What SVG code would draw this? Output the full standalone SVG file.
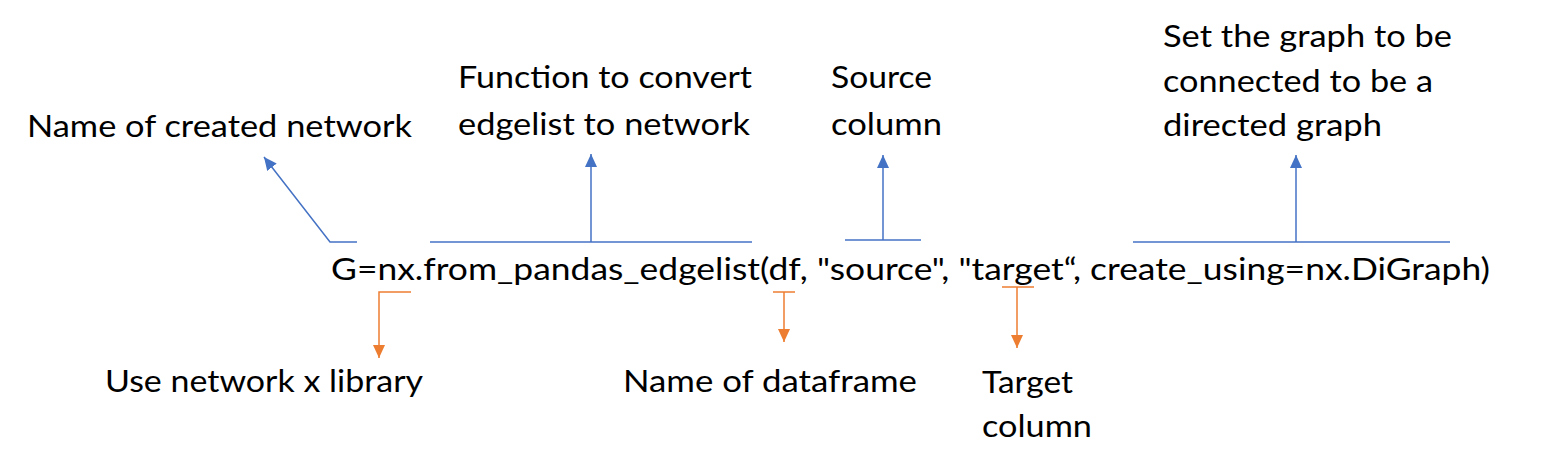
<svg xmlns="http://www.w3.org/2000/svg" width="1556" height="471" viewBox="0 0 1556 471">
<defs>
<style>
text{font-family:Lato,"Open Sans","Liberation Sans",sans-serif;font-size:31px;fill:#000}
.b{stroke:#4472C4;stroke-width:1.5;fill:none}
.o{stroke:#ED7D31;stroke-width:1.5;fill:none}
</style>
<marker id="ab" markerUnits="userSpaceOnUse" markerWidth="14" markerHeight="14" viewBox="0 0 14 14" refX="13" refY="7" orient="auto"><path d="M0,1 L13,7 L0,13 Z" fill="#4472C4"/></marker>
<marker id="ao" markerUnits="userSpaceOnUse" markerWidth="14" markerHeight="14" viewBox="0 0 14 14" refX="13" refY="7" orient="auto"><path d="M0,1 L13,7 L0,13 Z" fill="#ED7D31"/></marker>
</defs>
<rect width="1556" height="471" fill="#fff"/>
<g id="code"><text x="331" y="280" textLength="1159" lengthAdjust="spacingAndGlyphs">G=nx.from_pandas_edgelist(df, "source", "target“, create_using=nx.DiGraph)</text></g>
<g id="label-network-name"><text x="27" y="137" textLength="385" lengthAdjust="spacingAndGlyphs">Name of created network</text></g>
<g id="label-function"><text x="458" y="88" textLength="294" lengthAdjust="spacingAndGlyphs">Function to convert</text><text x="458" y="135" textLength="292" lengthAdjust="spacingAndGlyphs">edgelist to network</text></g>
<g id="label-source"><text x="831" y="88" textLength="101" lengthAdjust="spacingAndGlyphs">Source</text><text x="831" y="135" textLength="111" lengthAdjust="spacingAndGlyphs">column</text></g>
<g id="label-directed"><text x="1163" y="47" textLength="289" lengthAdjust="spacingAndGlyphs">Set the graph to be</text><text x="1163" y="92" textLength="270" lengthAdjust="spacingAndGlyphs">connected to be a</text><text x="1163" y="136" textLength="219" lengthAdjust="spacingAndGlyphs">directed graph</text></g>
<g id="label-library"><text x="105" y="392" textLength="318" lengthAdjust="spacingAndGlyphs">Use network x library</text></g>
<g id="label-dataframe"><text x="623" y="392" textLength="294" lengthAdjust="spacingAndGlyphs">Name of dataframe</text></g>
<g id="label-target"><text x="982" y="393" textLength="91" lengthAdjust="spacingAndGlyphs">Target</text><text x="982" y="437" textLength="110" lengthAdjust="spacingAndGlyphs">column</text></g>
<g id="connectors">
<polyline class="b" points="357,242 330,242 264,157" marker-end="url(#ab)"/>
<line class="b" x1="430" y1="242" x2="752" y2="242"/>
<line class="b" x1="591" y1="242" x2="591" y2="154" marker-end="url(#ab)"/>
<line class="b" x1="845" y1="240" x2="921" y2="240"/>
<line class="b" x1="883" y1="240" x2="883" y2="155" marker-end="url(#ab)"/>
<line class="b" x1="1133" y1="242" x2="1450" y2="242"/>
<line class="b" x1="1296" y1="242" x2="1296" y2="155" marker-end="url(#ab)"/>
<polyline class="o" points="411,292 379,292 379,358" marker-end="url(#ao)"/>
<line class="o" x1="773" y1="292" x2="795" y2="292"/>
<line class="o" x1="784" y1="292" x2="784" y2="342" marker-end="url(#ao)"/>
<line class="o" x1="1002" y1="287" x2="1034" y2="287"/>
<line class="o" x1="1017" y1="287" x2="1017" y2="348" marker-end="url(#ao)"/>
</g>
</svg>
